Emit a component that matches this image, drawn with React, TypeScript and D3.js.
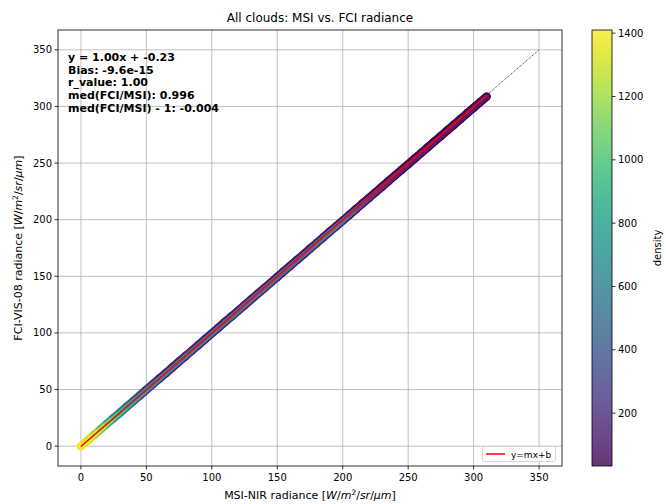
import React from "react";
import * as d3 from "d3";

// MSI-NIR radiance samples along the scatter trace
const msiKnots = [
  0, 5, 10, 15, 20, 25, 30, 35, 40, 45, 50, 55, 60, 65, 70, 75, 80, 85, 90, 95,
  100, 105, 110, 115, 120, 125, 130, 135, 140, 145, 150, 155, 160, 165, 170, 175,
  180, 185, 190, 195, 200, 205, 210, 215, 220, 225, 230, 235, 240, 245, 250, 255,
  260, 265, 270, 275, 280, 285, 290, 295, 300, 305, 310,
];
// FCI-VIS-08 radiance at those samples
const fciKnots = [
  0, 4.9, 9.9, 14.9, 19.9, 24.9, 29.8, 34.8, 39.8, 44.8, 49.8, 54.8, 59.7, 64.7,
  69.7, 74.7, 79.7, 84.6, 89.6, 94.6, 99.6, 104.6, 109.6, 114.5, 119.5, 124.5,
  129.5, 134.5, 139.4, 144.4, 149.4, 154.4, 159.4, 164.4, 169.3, 174.3, 179.3,
  184.3, 189.3, 194.2, 199.2, 204.2, 209.2, 214.2, 219.1, 224.1, 229.1, 234.1,
  239.1, 244.1, 249.0, 254.0, 259.0, 264.0, 269.0, 273.9, 278.9, 283.9, 288.9,
  293.9, 298.8, 303.8, 308.8,
];
// point density in the core of the cloud of points
const coreDensity = [
  1400, 1400, 1380, 1300, 1200, 1080, 960, 870, 790, 720, 660, 610, 580, 560,
  540, 530, 520, 510, 510, 500, 500, 490, 490, 480, 480, 470, 470, 460, 450, 440,
  430, 420, 410, 400, 400, 420, 460, 520, 560, 560, 520, 440, 340, 260, 190, 150,
  120, 100, 90, 80, 70, 65, 60, 55, 50, 50, 45, 45, 40, 40, 40, 40, 40,
];
// point density on the fringe of the cloud of points
const edgeDensity = [
  1400, 1350, 1250, 1100, 950, 800, 650, 520, 400, 300, 230, 190, 160, 145, 135,
  130, 130, 130, 130, 130, 130, 130, 130, 130, 130, 130, 130, 130, 125, 125, 120,
  120, 115, 115, 110, 110, 110, 110, 110, 105, 100, 95, 90, 80, 70, 60, 55, 50,
  50, 45, 45, 40, 40, 40, 40, 40, 40, 40, 40, 40, 40, 40, 40,
];

const fitSlope = 1.0;
const fitIntercept = -0.23;
const fitRange = [0, 310];
const identityRange = [0, 350];

const axisTicks = [0, 50, 100, 150, 200, 250, 300, 350];
const densityTicks = [200, 400, 600, 800, 1000, 1200, 1400];
const densityDomain = [33, 1410];

const statsLines = [
  "y = 1.00x + -0.23",
  "Bias: -9.6e-15",
  "r_value: 1.00",
  "med(FCI/MSI): 0.996",
  "med(FCI/MSI) - 1: -0.004",
];

const W = 666;
const H = 504;
const plot = { left: 58, right: 562, top: 30, bottom: 466 };
const cbar = { left: 592, right: 612 };
const FONT = "DejaVu Sans, sans-serif";

export default function App() {
  const x = d3.scaleLinear().domain([-17.5, 367.5]).range([plot.left, plot.right]);
  const y = d3.scaleLinear().domain([-17.5, 367.5]).range([plot.bottom, plot.top]);
  const color = d3
    .scaleSequential(d3.interpolateViridis)
    .domain(densityDomain as [number, number]);
  const cy = d3
    .scaleLinear()
    .domain(densityDomain)
    .range([plot.bottom, plot.top]);

  const segs = msiKnots.slice(0, -1).map((m, i) => ({
    x1: x(m),
    y1: y(fciKnots[i]),
    x2: x(msiKnots[i + 1]),
    y2: y(fciKnots[i + 1]),
    core: (coreDensity[i] + coreDensity[i + 1]) / 2,
    edge: (edgeDensity[i] + edgeDensity[i + 1]) / 2,
  }));

  const gradStops = d3.range(0, 1.0001, 0.05);
  const withAlpha = (c: string, a: number) => {
    const rgb = d3.rgb(c);
    const mix = (v: number) => Math.round(v * a + 255 * (1 - a));
    return d3.rgb(mix(rgb.r), mix(rgb.g), mix(rgb.b)).formatHex();
  };

  const unitLabel = (
    <>
      [<tspan fontStyle="italic">W</tspan>/<tspan fontStyle="italic">m</tspan>
      <tspan fontSize={7.5} dy={-4.5}>2</tspan>
      <tspan dy={4.5}>/</tspan>
      <tspan fontStyle="italic">sr</tspan>/<tspan fontStyle="italic">μm</tspan>]
    </>
  );

  return (
    <svg
      width={W}
      height={H}
      style={{ position: "absolute", left: 0, top: 0, background: "white" }}
      fontFamily={FONT}
    >
      <defs>
        <linearGradient id="cbgrad" x1="0" y1="1" x2="0" y2="0">
          {gradStops.map((t) => (
            <stop
              key={t}
              offset={t}
              stopColor={withAlpha(d3.interpolateViridis(t), 0.8)}
            />
          ))}
        </linearGradient>
        <clipPath id="plotclip">
          <rect
            x={plot.left}
            y={plot.top}
            width={plot.right - plot.left}
            height={plot.bottom - plot.top}
          />
        </clipPath>
      </defs>
      <rect width={W} height={H} fill="white" />

      {/* grid */}
      <g stroke="#b0b0b0" strokeWidth={0.8}>
        {axisTicks.map((t) => (
          <line key={"gx" + t} x1={x(t)} x2={x(t)} y1={plot.top} y2={plot.bottom} />
        ))}
        {axisTicks.map((t) => (
          <line key={"gy" + t} y1={y(t)} y2={y(t)} x1={plot.left} x2={plot.right} />
        ))}
      </g>

      <g clipPath="url(#plotclip)">
        {/* density-coloured scatter trace */}
        <g strokeLinecap="round">
          {segs.map((s, i) => (
            <line
              key={"e" + i}
              x1={s.x1}
              y1={s.y1}
              x2={s.x2}
              y2={s.y2}
              stroke={color(s.edge)}
              strokeWidth={8.5}
            />
          ))}
          {segs.map((s, i) => (
            <line
              key={"c" + i}
              x1={s.x1}
              y1={s.y1 + 0.4}
              x2={s.x2}
              y2={s.y2 + 0.4}
              stroke={withAlpha(color(s.core), 0.9)}
              strokeWidth={5.2}
            />
          ))}
        </g>
        {/* 1:1 line */}
        <line
          x1={x(identityRange[0])}
          y1={y(identityRange[0])}
          x2={x(identityRange[1])}
          y2={y(identityRange[1])}
          stroke="black"
          strokeWidth={0.6}
          strokeDasharray="2.6,1.4"
        />
        {/* linear fit */}
        <line
          x1={x(fitRange[0])}
          y1={y(fitSlope * fitRange[0] + fitIntercept)}
          x2={x(fitRange[1])}
          y2={y(fitSlope * fitRange[1] + fitIntercept)}
          stroke="red"
          strokeWidth={1.5}
        />
      </g>

      {/* frame */}
      <rect
        x={plot.left}
        y={plot.top}
        width={plot.right - plot.left}
        height={plot.bottom - plot.top}
        fill="none"
        stroke="black"
        strokeWidth={0.8}
      />

      {/* axes ticks */}
      <g fontSize={10} fill="#000">
        {axisTicks.map((t) => (
          <g key={"xt" + t}>
            <line x1={x(t)} x2={x(t)} y1={plot.bottom} y2={plot.bottom + 3.5} stroke="black" strokeWidth={0.8} />
            <text x={x(t)} y={plot.bottom + 15} textAnchor="middle">
              {t}
            </text>
          </g>
        ))}
        {axisTicks.map((t) => (
          <g key={"yt" + t}>
            <line x1={plot.left - 3.5} x2={plot.left} y1={y(t)} y2={y(t)} stroke="black" strokeWidth={0.8} />
            <text x={plot.left - 6} y={y(t)} dy="0.35em" textAnchor="end">
              {t}
            </text>
          </g>
        ))}
      </g>

      {/* axis labels */}
      <text x={(plot.left + plot.right) / 2} y={499} textAnchor="middle" fontSize={11}>
        MSI-NIR radiance {unitLabel}
      </text>
      <text
        transform={`translate(22, ${(plot.top + plot.bottom) / 2}) rotate(-90)`}
        textAnchor="middle"
        fontSize={11}
      >
        FCI-VIS-08 radiance {unitLabel}
      </text>

      {/* title */}
      <text x={320} y={22} textAnchor="middle" fontSize={12}>
        All clouds: MSI vs. FCI radiance
      </text>

      {/* fit statistics */}
      <g fontSize={11} fontWeight="bold">
        {statsLines.map((s, i) => (
          <text key={s} x={68} y={61 + i * 12.7}>
            {s}
          </text>
        ))}
      </g>

      {/* legend */}
      <g>
        <rect x={482.5} y={446.5} width={73} height={15} rx={2} fill="white" fillOpacity={0.8} stroke="#cccccc" strokeWidth={0.8} />
        <line x1={486} x2={505} y1={454} y2={454} stroke="red" strokeWidth={1.5} />
        <text x={511} y={457.5} fontSize={9}>
          y=mx+b
        </text>
      </g>

      {/* colorbar */}
      <rect
        x={cbar.left}
        y={plot.top}
        width={cbar.right - cbar.left}
        height={plot.bottom - plot.top}
        fill="url(#cbgrad)"
        stroke="black"
        strokeWidth={0.8}
      />
      <g fontSize={10}>
        {densityTicks.map((t) => (
          <g key={"ct" + t}>
            <line x1={cbar.right} x2={cbar.right + 3.5} y1={cy(t)} y2={cy(t)} stroke="black" strokeWidth={0.8} />
            <text x={cbar.right + 6} y={cy(t)} dy="0.35em">
              {t}
            </text>
          </g>
        ))}
      </g>
      <text
        transform={`translate(661, ${(plot.top + plot.bottom) / 2}) rotate(-90)`}
        textAnchor="middle"
        fontSize={10}
      >
        density
      </text>
    </svg>
  );
}
